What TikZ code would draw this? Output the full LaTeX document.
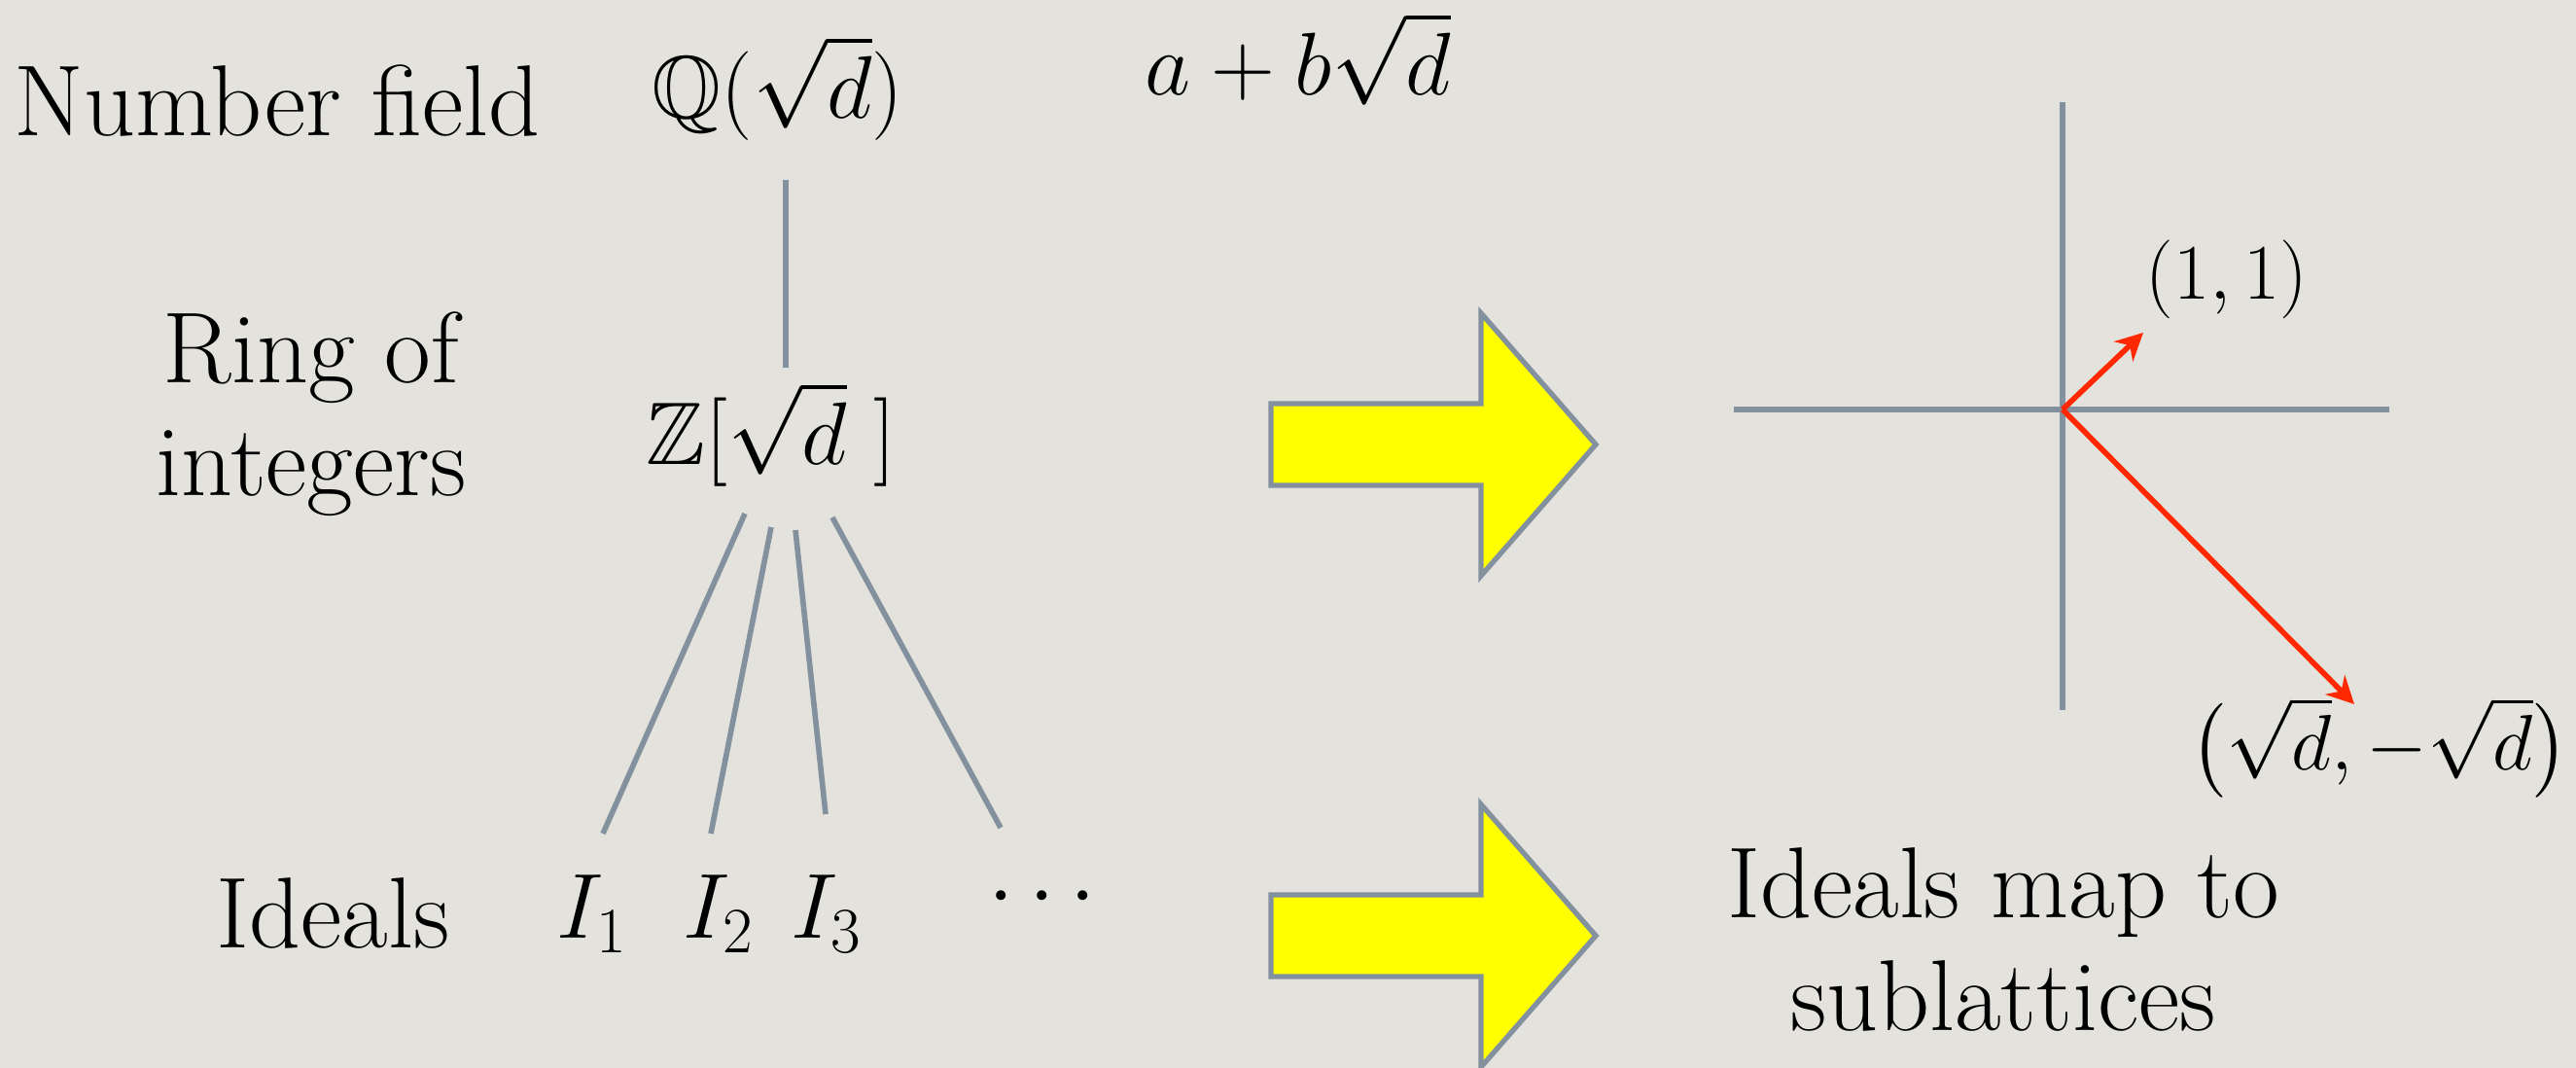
\RequirePackage{fix-cm}
\documentclass[tikz,border=0pt]{standalone}
\usepackage{amsmath,amssymb}
\usepackage{fontspec}
\usepackage{xcolor}
\usepackage{tikz}
\usetikzlibrary{arrows.meta,positioning,calc}

\definecolor{paper}{RGB}{228,226,220}
\definecolor{slate}{RGB}{131,144,158}
\definecolor{vecred}{RGB}{255,40,0}
\definecolor{hilite}{RGB}{255,255,0}

\begin{document}
\begin{tikzpicture}[
  txt/.style={inner sep=0pt, align=center, font=\fontsize{29.5}{33}\selectfont},
  mth/.style={inner sep=0pt, font=\fontsize{26}{31}\selectfont},
  idl/.style={inner sep=0pt, font=\fontsize{27}{32}\selectfont},
  crd/.style={inner sep=0pt, font=\fontsize{23}{27}\selectfont},
  stalk/.style={draw=slate, line width=1.6pt},
  fat/.style={draw=slate, line width=1.5pt, fill=hilite, line join=miter},
  vec/.style={draw=vecred, line width=1.6pt, -{Stealth[length=8pt,width=8pt]}}
]

\fill[paper] (0,0) rectangle (26.49,-10.98);
\useasboundingbox (0,0) rectangle (26.49,-10.98);

\node[txt, anchor=base west] (numfield) at (0.14,-1.40) {Number field};
\node[mth, anchor=base] (qfield) at (8.00,-1.22) {$\mathbb{Q}(\sqrt{d})$};
\node[mth, anchor=base] (elem) at (13.35,-0.98) {$a+b\sqrt{d}$};
\node[txt, anchor=north] (ring) at (3.20,-3.20) {Ring of\\integers};
\node[mth, anchor=base] (zring) at (7.93,-4.78) {$\mathbb{Z}[\sqrt{d}\ ]$};

\node[txt, anchor=base west] (ideals) at (2.22,-9.75) {Ideals};
\node[idl, anchor=base west] (ione) at (5.72,-9.65) {$I_1$};
\node[idl, anchor=base west] (itwo) at (7.02,-9.65) {$I_2$};
\node[idl, anchor=base west] (ithree) at (8.13,-9.65) {$I_3$};
\node[idl, anchor=base] (idots) at (10.80,-9.45) {$\cdots$};

\coordinate (qdown) at (8.08,-1.85);
\coordinate (zup) at (8.08,-3.78);
\draw[stalk] (qdown) -- (zup);

\coordinate (z1) at (7.66,-5.28);
\coordinate (z2) at (7.93,-5.42);
\coordinate (z3) at (8.18,-5.45);
\coordinate (z4) at (8.56,-5.32);
\coordinate (i1) at (6.20,-8.57);
\coordinate (i2) at (7.31,-8.57);
\coordinate (i3) at (8.49,-8.37);
\coordinate (i4) at (10.29,-8.51);
\draw[stalk] (z1) -- (i1);
\draw[stalk] (z2) -- (i2);
\draw[stalk] (z3) -- (i3);
\draw[stalk] (z4) -- (i4);

\foreach \y in {-4.57,-9.62}
  \draw[fat] (13.07,\y) ++(0,0.42) -- ++(2.16,0) -- ++(0,0.93) -- ++(1.18,-1.35)
    -- ++(-1.18,-1.35) -- ++(0,0.93) -- ++(-2.16,0) -- cycle;

\draw[stalk] (21.21,-1.05) -- (21.21,-7.30);
\draw[stalk] (17.83,-4.21) -- (24.57,-4.21);
\coordinate (o) at (21.21,-4.21);
\coordinate (u) at (22.04,-3.42);
\coordinate (v) at (24.21,-7.24);
\draw[vec] (o) -- (u);
\draw[vec] (o) -- (v);
\node[crd, anchor=base] (ulbl) at (22.90,-3.08) {$(1,1)$};
\node[crd, anchor=base] (vlbl) at (24.47,-7.92) {$\bigl(\sqrt{d},-\sqrt{d}\bigr)$};

\node[txt, anchor=north] (maplbl) at (20.60,-8.71) {Ideals map to\\sublattices};

\end{tikzpicture}
\end{document}
